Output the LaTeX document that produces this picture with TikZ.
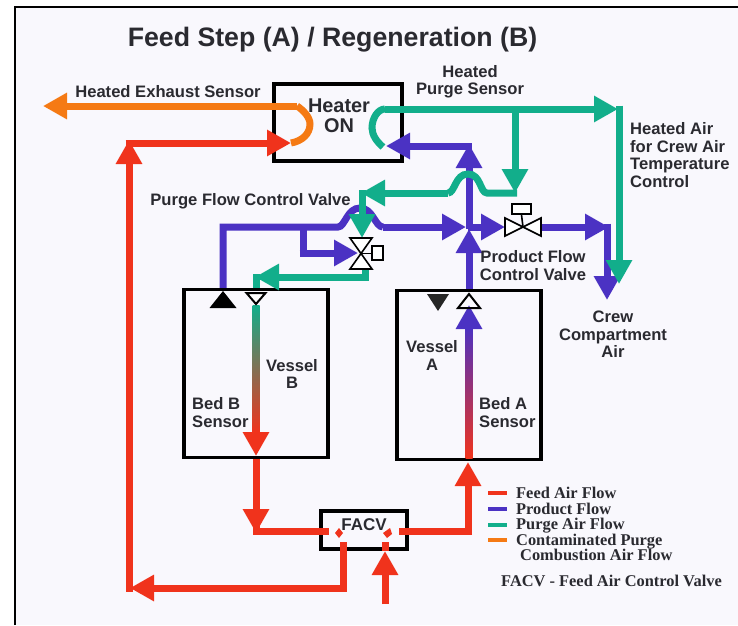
\documentclass[tikz,border=0pt]{standalone}
\usepackage{fontspec}
\usepackage{xcolor}
\usetikzlibrary{arrows.meta}
\setmainfont{Liberation Sans}
\newfontfamily\legendfont{Liberation Serif}
\definecolor{feedred}{HTML}{F0331C}
\definecolor{productblue}{HTML}{4B32C3}
\definecolor{purgegreen}{HTML}{12AE8B}
\definecolor{exhaustorange}{HTML}{F57A14}
\definecolor{inkgray}{HTML}{2A2A30}
\definecolor{paper}{HTML}{F9F8FD}
\definecolor{bedbmix}{HTML}{B98A58}
\definecolor{bedamix}{HTML}{D0109A}
\tikzset{
    flowline/.style={line width=7pt, line join=miter},
    feedflow/.style={flowline, draw=feedred},
    productflow/.style={flowline, draw=productblue},
    purgeflow/.style={flowline, draw=purgegreen},
    exhaustflow/.style={flowline, draw=exhaustorange},
    flowhead/.style={-{Triangle[width=25pt,length=24pt]}},
    vesselbox/.style={draw=black, rectangle, line width=3.5pt, inner sep=0pt},
    valveshape/.style={draw=black, fill=white, line width=1.6pt, line join=miter},
    lbl/.style={text=inkgray, inner sep=0pt, align=center, font=\fontsize{16.6}{17.4}\selectfont\bfseries},
    legendlbl/.style={text=inkgray, inner sep=0pt, anchor=base west, font=\fontsize{16.4}{15}\legendfont\bfseries},
    swatch/.style={rectangle, inner sep=0pt, minimum width=19pt, minimum height=4pt},
}
\begin{document}
\begin{tikzpicture}[x=1pt,y=-1pt]
    \useasboundingbox (0,0) rectangle (738,625);
    \fill[paper] (15,7) rectangle (738,625);
    \draw[line width=2.5pt, line join=miter] (15.2,625) -- (15.2,7.2) -- (738,7.2);

    \node[text=inkgray, inner sep=0pt, font=\fontsize{26.7}{30}\selectfont\bfseries] (title) at (332.5,40) {Feed Step (A) / Regeneration (B)};

    \node[vesselbox, minimum width=128pt, minimum height=77pt] (heater) at (338,122.5) {};
    \node[vesselbox, minimum width=144pt, minimum height=168pt] (vesselB) at (256,373.5) {};
    \node[vesselbox, minimum width=144pt, minimum height=169pt] (vesselA) at (469,375) {};
    \node[vesselbox, minimum width=86pt, minimum height=38pt] (facv) at (364,530) {};

    \coordinate (exhaustEnd) at (43,106);
    \coordinate (heaterIn) at (291,143);
    \coordinate (feedCorner) at (129,140);
    \coordinate (feedLow) at (129,588);
    \coordinate (returnDrop) at (343,588);
    \coordinate (returnTop) at (343,542);
    \coordinate (supplyEnd) at (385,604);
    \coordinate (supplyTip) at (385,551);
    \coordinate (bedBDrop) at (256,533);
    \coordinate (bedBLeft) at (256,531);
    \coordinate (facvLeft) at (329,531);
    \coordinate (facvRight) at (399,531);
    \coordinate (bedAFeed) at (468,531);
    \coordinate (bedATip) at (468,462);
    \coordinate (stubLow) at (385,542);
    \coordinate (purgeValve) at (361,253.5);
    \coordinate (productValve) at (523,227);
    \coordinate (bedBOut) at (223,227);
    \coordinate (bedBTee) at (303,227);
    \coordinate (bedBFork) at (303,253);
    \coordinate (humpOneIn) at (338,227);
    \coordinate (humpOneOut) at (383,227);
    \coordinate (junction) at (469,229);
    \coordinate (junctionOut) at (505,227);
    \coordinate (junctionStart) at (468,227);
    \coordinate (junctionIn) at (466,227);
    \coordinate (productOut) at (541,227);
    \coordinate (crewCorner) at (609,227);
    \coordinate (crewTip) at (607,300);
    \coordinate (heaterFeed) at (469,144);
    \coordinate (heaterFeedLeft) at (472,146);
    \coordinate (heaterFeedTip) at (386,146);
    \coordinate (purgeStart) at (383,147);
    \coordinate (purgeTop) at (385,109);
    \coordinate (purgeCorner) at (618,109);
    \coordinate (crewGreen) at (619,284);
    \coordinate (purgeTee) at (515,109);
    \coordinate (purgeDrop) at (515,193);
    \coordinate (purgeLeft) at (517,193);
    \coordinate (humpTwoIn) at (487,193);
    \coordinate (humpTwoOut) at (448,193);
    \coordinate (purgeTurn) at (361,193);
    \coordinate (purgeTurnIn) at (362,190);
    \coordinate (purgeValveTop) at (362,238);
    \coordinate (purgeValveOut) at (365,269);
    \coordinate (purgeLow) at (365,277);
    \coordinate (bedBPurge) at (255,277);
    \coordinate (bedBPurgeDown) at (256,274);
    \coordinate (bedBShaftTop) at (252.5,305);
    \coordinate (bedBShaftEnd) at (259.5,432);
    \coordinate (bedBHeadStart) at (256,431);
    \coordinate (bedBTip) at (256,456);
    \coordinate (bedAShaftTop) at (465.5,326);
    \coordinate (bedAShaftEnd) at (472.5,458);
    \coordinate (bedAHeadStart) at (469,330);
    \coordinate (bedATopTip) at (469,305);

    \draw[feedflow] (vesselB.south) -- (bedBLeft) -- (facvLeft);
    \draw[feedflow, flowhead] (vesselB.south) -- (bedBDrop);
    \draw[feedflow] (facvRight) -- (bedAFeed);
    \draw[feedflow, flowhead] ([yshift=-3.5pt]bedAFeed) -- (bedATip);
    \draw[feedflow] (facv.south -| returnTop) -- (returnTop);
    \draw[feedflow] (facv.south -| stubLow) -- (stubLow);
    \draw[feedflow] (returnTop) -- (returnDrop);
    \draw[feedflow, flowhead] ([xshift=3.5pt]returnDrop) -- ([xshift=1pt]feedLow);
    \draw[feedflow, flowhead] ([yshift=-3.5pt]feedLow) -- (feedCorner);
    \draw[feedflow, flowhead] ([xshift=-3.5pt,yshift=-3pt]feedCorner) -- (heaterIn);
    \draw[feedflow, flowhead] (supplyEnd) -- (supplyTip);
    \fill[feedred] (339,528) -- (343,533) -- (339,538) -- (335,533) -- cycle;
    \fill[feedred] (390,528) -- (392,534) -- (387,538) -- (383,533) -- cycle;

    \draw[exhaustflow] (heaterIn) .. controls (302,141) and (310,134) .. (310,124) .. controls (310,117) and (303,110) .. (297,106);
    \draw[exhaustflow, flowhead] (297,106) -- (exhaustEnd);

    \draw[productflow] (vesselB.north -| bedBOut) -- (bedBOut) -- (humpOneIn) .. controls (345,227) and (347,208) .. (360,208) .. controls (373,208) and (375,227) .. (humpOneOut);
    \draw[productflow, flowhead] (humpOneOut) -- (junctionIn);
    \draw[productflow] (bedBTee) -- (bedBFork);
    \draw[productflow, flowhead] ([xshift=-3.5pt]bedBFork) -- (358,253);
    \draw[productflow, flowhead] (junctionStart) -- (junctionOut);
    \draw[productflow, flowhead] (vesselA.north) -- (junction);
    \draw[productflow, flowhead] (junction) -- (heaterFeed);
    \draw[productflow, flowhead] (heaterFeedLeft) -- (heaterFeedTip);
    \draw[productflow, flowhead] (productOut) -- (crewCorner);
    \draw[productflow, flowhead] ([yshift=3.5pt]crewCorner -| crewTip) -- (crewTip);

    \draw[purgeflow] (purgeStart) .. controls (377,142) and (372,135) .. (372,128) .. controls (372,118) and (378,109) .. (purgeTop);
    \draw[purgeflow, flowhead] (purgeTop) -- (purgeCorner);
    \draw[purgeflow, flowhead] ([yshift=3.5pt]purgeCorner -| crewGreen) -- (crewGreen);
    \draw[purgeflow, flowhead] (purgeTee) -- (purgeDrop);
    \draw[purgeflow] (purgeLeft) -- (humpTwoIn) .. controls (480,193) and (481,174) .. (468,174) .. controls (455,174) and (455,193) .. (humpTwoOut);
    \draw[purgeflow, flowhead] (humpTwoOut) -- (purgeTurn);
    \draw[purgeflow, flowhead] (purgeTurnIn) -- (purgeValveTop);
    \draw[purgeflow] (purgeValveOut) -- (purgeLow);
    \draw[purgeflow, flowhead] ([xshift=3.5pt]purgeLow) -- (bedBPurge);
    \draw[purgeflow] (bedBPurgeDown) -- (vesselB.north -| bedBPurgeDown);

    \shade[top color=purgegreen, middle color=bedbmix, bottom color=feedred] (bedBShaftTop) rectangle (bedBShaftEnd);
    \draw[feedflow, flowhead] (bedBHeadStart) -- (bedBTip);
    \shade[top color=productblue, middle color=bedamix, bottom color=feedred] (bedAShaftTop) rectangle (bedAShaftEnd);
    \draw[productflow, flowhead] (bedAHeadStart) -- (bedATopTip);

    \fill[black] (bedBOut |- 0,291) -- ++(-13.5,17) -- ++(27,0) -- cycle;
    \draw[valveshape, line width=2pt] (bedBPurgeDown |- 0,293) -- ++(19/2,0) -- ++(-9.5,11) -- ++(-9.5,-11) -- cycle;
    \fill[black!85] (438,294) -- ++(11,0) -- ++(-11,17) -- ++(-11,-17) -- cycle;
    \draw[valveshape, line width=2pt, fill=none] (469,294) -- ++(11,14) -- ++(-22,0) -- cycle;

    \draw[valveshape] (purgeValve) -- (372,238) -- (350,238) -- (purgeValve) -- (372,269) -- (350,269) -- cycle;
    \draw[valveshape] (purgeValve) -- (372,253.5);
    \node[valveshape, rectangle, inner sep=0pt, minimum width=11pt, minimum height=14pt] (purgeActuator) at (377.5,253) {};
    \draw[valveshape] (productValve) -- (505,218) -- (505,236) -- (productValve) -- (541,218) -- (541,236) -- cycle;
    \node[valveshape, rectangle, inner sep=0pt, minimum width=19pt, minimum height=10pt] (productActuator) at (521.5,209) {};
    \draw[valveshape] (productValve) -- (productActuator.south);

    \node[lbl, font=\fontsize{19.9}{19.5}\selectfont\bfseries] (heaterText) at (339,115.5) {Heater\\ON};
    \node[lbl] (exhaustText) at (168,92) {Heated Exhaust Sensor};
    \node[lbl] (purgeSensorText) at (470,81.5) {Heated\\Purge Sensor};
    \node[lbl] (purgeValveText) at (250.5,201) {Purge Flow Control Valve};
    \node[lbl, anchor=west, align=left] (crewAirText) at (630,155) {Heated Air\\for Crew Air\\Temperature\\Control};
    \node[lbl] (productValveText) at (533,265.5) {Product Flow\\Control Valve};
    \node[lbl] (crewText) at (613,334.5) {Crew\\Compartment\\Air};
    \node[lbl] (vesselBText) at (292,374) {Vessel\\B};
    \node[lbl, anchor=west, align=left] (bedBText) at (192,412.5) {Bed B\\Sensor};
    \node[lbl] (vesselAText) at (432,355.5) {Vessel\\A};
    \node[lbl, anchor=west, align=left] (bedAText) at (479,412.5) {Bed A\\Sensor};
    \node[lbl, font=\fontsize{17}{18}\selectfont\bfseries] (facvText) at (364,525) {FACV};

    \node[swatch, fill=feedred] (legendFeed) at (497.5,493) {};
    \node[swatch, fill=productblue] (legendProduct) at (497.5,509) {};
    \node[swatch, fill=purgegreen] (legendPurge) at (497.5,525) {};
    \node[swatch, fill=exhaustorange] (legendExhaust) at (497.5,540) {};
    \node[legendlbl] (legendFeedText) at (516,498) {Feed Air Flow};
    \node[legendlbl] (legendProductText) at (516,514) {Product Flow};
    \node[legendlbl] (legendPurgeText) at (516,529.5) {Purge Air Flow};
    \node[legendlbl] (legendExhaustText) at (516,545) {Contaminated Purge};
    \node[legendlbl] (legendCombustionText) at (520,560) {Combustion Air Flow};
    \node[legendlbl] (facvNote) at (501,586) {FACV - Feed Air Control Valve};
\end{tikzpicture}
\end{document}
